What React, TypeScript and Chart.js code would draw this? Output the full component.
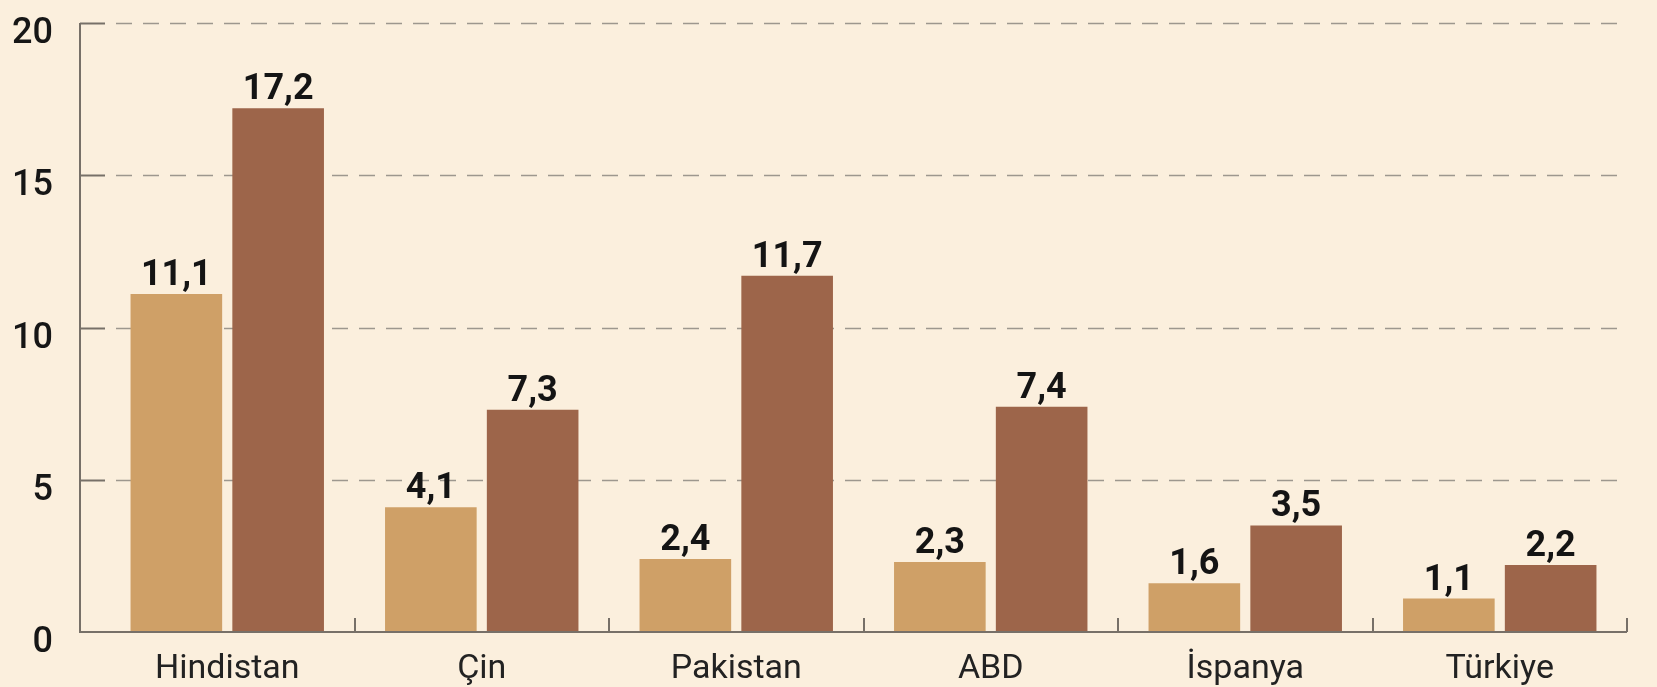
import { useEffect, useRef } from "react";
import { Chart, registerables } from "chart.js";

Chart.register(...registerables);

const categories = ["Hindistan", "Çin", "Pakistan", "ABD", "İspanya", "Türkiye"];
const seriesLight = [11.1, 4.1, 2.4, 2.3, 1.6, 1.1];
const seriesDark = [17.2, 7.3, 11.7, 7.4, 3.5, 2.2];
const yTickValues = [0, 5, 10, 15, 20];

const BG = "#FBEFDD";
const LIGHT = "#CFA067";
const DARK = "#9D654A";
const AXIS = "#777068";
const GRID = "#9d978e";

const fmt = (v: number) => v.toFixed(1).replace(".", ",");

const bgPlugin = {
  id: "bg",
  beforeDraw(chart: any) {
    const { ctx, width, height } = chart;
    ctx.save();
    ctx.fillStyle = BG;
    ctx.fillRect(0, 0, width, height);
    ctx.restore();
  },
};

const decoPlugin = {
  id: "deco",
  beforeDatasetsDraw(chart: any) {
    const { ctx, chartArea } = chart;
    const y = chart.scales.y;
    const axisX = chartArea.left - 20;
    ctx.save();
    ctx.strokeStyle = GRID;
    ctx.lineWidth = 1.5;
    ctx.setLineDash([16, 11]);
    yTickValues.forEach((v) => {
      if (v === 0) return;
      const py = Math.round(y.getPixelForValue(v)) + 0.5;
      ctx.beginPath();
      ctx.moveTo(axisX + 36, py);
      ctx.lineTo(chartArea.right, py);
      ctx.stroke();
    });
    ctx.restore();
  },
  afterDatasetsDraw(chart: any) {
    const { ctx, chartArea } = chart;
    const x = chart.scales.x;
    const y = chart.scales.y;
    const axisX = chartArea.left - 20;
    const zeroY = y.getPixelForValue(0);
    const half = (x.getPixelForValue(1) - x.getPixelForValue(0)) / 2;
    ctx.save();
    ctx.strokeStyle = AXIS;
    ctx.lineWidth = 2;
    ctx.beginPath();
    ctx.moveTo(axisX, y.getPixelForValue(20));
    ctx.lineTo(axisX, zeroY + 1);
    ctx.stroke();
    yTickValues.forEach((v) => {
      if (v === 0) return;
      const py = Math.round(y.getPixelForValue(v)) + 0.5;
      ctx.beginPath();
      ctx.moveTo(axisX, py);
      ctx.lineTo(axisX + 25, py);
      ctx.stroke();
    });
    ctx.beginPath();
    ctx.moveTo(axisX - 1, zeroY);
    ctx.lineTo(chartArea.right, zeroY);
    ctx.stroke();
    categories.forEach((_, i) => {
      const px = Math.round(x.getPixelForValue(i) + half);
      ctx.beginPath();
      ctx.moveTo(px, zeroY);
      ctx.lineTo(px, zeroY - 14);
      ctx.stroke();
    });
    ctx.fillStyle = "#141414";
    ctx.font = "bold 36px Roboto";
    ctx.textAlign = "center";
    ctx.textBaseline = "alphabetic";
    chart.data.datasets.forEach((ds: any, di: number) => {
      const meta = chart.getDatasetMeta(di);
      meta.data.forEach((el: any, i: number) => {
        ctx.fillText(fmt(ds.data[i]), el.x, el.y - 9);
      });
    });
    ctx.restore();
  },
};

export default function App() {
  const ref = useRef<HTMLCanvasElement | null>(null);
  useEffect(() => {
    document.body.style.margin = "0";
    document.body.style.background = BG;
    if (!ref.current) return;
    const chart = new Chart(ref.current, {
      type: "bar",
      data: {
        labels: categories,
        datasets: [
          { data: seriesLight, backgroundColor: LIGHT, categoryPercentage: 0.8, barPercentage: 0.9 },
          { data: seriesDark, backgroundColor: DARK, categoryPercentage: 0.8, barPercentage: 0.9 },
        ],
      },
      options: {
        animation: false,
        responsive: false,
        devicePixelRatio: 1,
        layout: { padding: { left: 0, right: 30, top: 23, bottom: 0 } },
        plugins: { legend: { display: false }, tooltip: { enabled: false } },
        scales: {
          x: {
            grid: { display: false },
            border: { display: false },
            ticks: {
              color: "#222222",
              font: { family: "Roboto", size: 34 },
              padding: 9,
              maxRotation: 0,
            },
            afterFit: (s: any) => {
              s.height = 55;
            },
          },
          y: {
            min: 0,
            max: 20,
            grid: { display: false },
            border: { display: false },
            afterBuildTicks: (s: any) => {
              s.ticks = yTickValues.map((v) => ({ value: v }));
            },
            ticks: {
              color: "#161616",
              font: { family: "Roboto", size: 36, weight: 500 },
              crossAlign: "near",
              padding: 39,
              labelOffset: 11,
            },
            afterFit: (s: any) => {
              s.width = 100;
              s.paddingTop = 0;
              s.paddingBottom = 0;
            },
          },
        },
      },
      plugins: [bgPlugin, decoPlugin],
    });
    return () => chart.destroy();
  }, []);
  return (
    <div style={{ width: 1657, height: 687, background: BG }}>
      <canvas ref={ref} width={1657} height={687} style={{ display: "block" }} />
    </div>
  );
}
